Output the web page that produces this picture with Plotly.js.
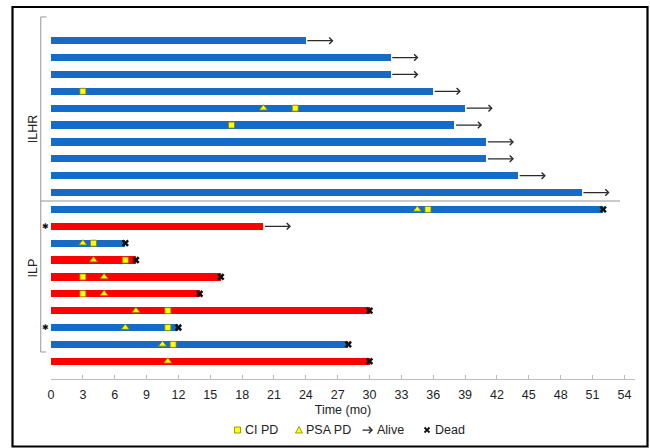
<!DOCTYPE html>
<html>
<head>
<meta charset="utf-8">
<script src="https://cdn.plot.ly/plotly-3.0.1.min.js"></script>
<style>html,body{margin:0;padding:0;background:#fff;}#chart{width:650px;height:448px;}</style>
</head>
<body>
<div id="chart"></div>
<script>
// ---- data (one row per patient, top to bottom) ----
const durationMo = [24, 32, 32, 36, 39, 38, 41, 41, 44, 50, 52, 20, 7, 8, 16, 14, 30, 12, 28, 30];
const barGroup   = ['blue','blue','blue','blue','blue','blue','blue','blue','blue','blue',
                    'blue','red','blue','red','red','red','red','blue','blue','red'];
const status     = ['Alive','Alive','Alive','Alive','Alive','Alive','Alive','Alive','Alive','Alive',
                    'Dead','Alive','Dead','Dead','Dead','Dead','Dead','Dead','Dead','Dead'];
const ciPD       = [null, null, null, 3, 23, 17, null, null, null, null,
                    35.5, null, 4, 7, 3, 3, 11, 11, 11.5, null];
const psaPD      = [null, null, null, null, 20, null, null, null, null, null,
                    34.5, null, 3, 4, 5, 5, 8, 7, 10.5, 11];
const asterisk   = [false,false,false,false,false,false,false,false,false,false,
                    false,true,false,false,false,false,false,true,false,false];
const groupLabels = ['ILHR', 'ILP'];
const legendLabels = ['CI PD', 'PSA PD', 'Alive', 'Dead'];
const xTitle = 'Time (mo)';

// ---- styling ----
const FONT = 'Liberation Sans, Arial, sans-serif';
const COLORS = {blue: '#146cc8', red: '#ff0000'};
const ARROW_LEN = 2.6;
const M = {l: 51, r: 15, t: 10, b: 69};
const PW = 650 - M.l - M.r, PH = 448 - M.t - M.b;
const px2x = p => (p - M.l) / PW;
const px2y = p => (M.t + PH - p) / PH;

const rows = durationMo.map((_, i) => i + 1);

const traces = [];
traces.push({
  type: 'bar', orientation: 'h',
  x: durationMo, y: rows, base: 0, width: 0.43,
  marker: {color: barGroup.map(g => COLORS[g]), line: {width: 0}},
  hoverinfo: 'skip', showlegend: false
});
function pts(arr) {
  const xs = [], ys = [];
  arr.forEach((v, i) => { if (v !== null) { xs.push(v); ys.push(rows[i]); } });
  return {xs, ys};
}
const psa = pts(psaPD);
traces.push({
  type: 'scatter', mode: 'markers', x: psa.xs, y: psa.ys, cliponaxis: false,
  marker: {symbol: 'triangle-up', size: 7, color: '#ffff00', line: {color: '#8a8000', width: 0.8}},
  showlegend: false, hoverinfo: 'skip'
});
const ci = pts(ciPD);
traces.push({
  type: 'scatter', mode: 'markers', x: ci.xs, y: ci.ys, cliponaxis: false,
  marker: {symbol: 'square', size: 6, color: '#ffff00', line: {color: '#8a8000', width: 0.8}},
  showlegend: false, hoverinfo: 'skip'
});
const dead = pts(durationMo.map((d, i) => status[i] === 'Dead' ? d : null));
traces.push({
  type: 'scatter', mode: 'markers', x: dead.xs, y: dead.ys, cliponaxis: false,
  marker: {symbol: 'x', size: 6.5, color: '#111', line: {width: 0}},
  showlegend: false, hoverinfo: 'skip'
});

const annotations = [];
// alive arrows
durationMo.forEach((d, i) => {
  if (status[i] === 'Alive') {
    annotations.push({
      xref: 'x', yref: 'y', axref: 'x', ayref: 'y',
      x: d + ARROW_LEN, y: rows[i], ax: d, ay: rows[i],
      text: '', showarrow: true, arrowhead: 4, arrowsize: 1, arrowwidth: 1.25,
      arrowcolor: '#2a2a2a', standoff: 0, startstandoff: 0
    });
  }
  if (asterisk[i]) {
    annotations.push({
      xref: 'paper', yref: 'y', x: px2x(45), y: rows[i], text: '✱',
      showarrow: false, font: {family: 'DejaVu Sans', size: 8, color: '#111'},
      xanchor: 'center', yanchor: 'middle'
    });
  }
});
// group labels
[[groupLabels[0], 6.25], [groupLabels[1], 14.5]].forEach(([t, yy]) => {
  annotations.push({
    xref: 'paper', yref: 'y', x: px2x(33), y: yy, text: t, textangle: -90,
    showarrow: false, font: {family: FONT, size: 12.5, color: '#222'},
    xanchor: 'center', yanchor: 'middle'
  });
});
// legend text
const LY = 430;
[[legendLabels[0], 243], [legendLabels[1], 304], [legendLabels[2], 375], [legendLabels[3], 433]].forEach(([t, px]) => {
  annotations.push({
    xref: 'paper', yref: 'paper', x: px2x(px), y: px2y(LY), text: t,
    showarrow: false, xanchor: 'left', yanchor: 'middle',
    font: {family: FONT, size: 12.5, color: '#222'}
  });
});
// legend arrow
annotations.push({
  xref: 'paper', yref: 'paper', x: px2x(373), y: px2y(LY), ax: -12, ay: 0,
  text: '', showarrow: true, arrowhead: 4, arrowsize: 1, arrowwidth: 1.25, arrowcolor: '#2a2a2a'
});

const GRAY = '#a8a8a8';
const shapes = [
  // outer frame
  {type: 'rect', xref: 'paper', yref: 'paper', x0: px2x(12.5), x1: px2x(647.5), y0: px2y(446.5), y1: px2y(7),
   line: {color: '#000', width: 2.2}, fillcolor: 'rgba(0,0,0,0)'},
  // separator
  {type: 'line', xref: 'paper', yref: 'y', x0: px2x(40.7), x1: px2x(620), y0: 10.5, y1: 10.5,
   line: {color: '#b8b8b8', width: 1.5}},
  // ILHR bracket
  {type: 'line', xref: 'paper', yref: 'y', x0: px2x(40.7), x1: px2x(40.7), y0: -0.41, y1: 10.5, line: {color: GRAY, width: 1.2}},
  {type: 'line', xref: 'paper', yref: 'y', x0: px2x(40.7), x1: px2x(46.5), y0: -0.41, y1: -0.41, line: {color: GRAY, width: 1.2}},
  // ILP bracket
  {type: 'line', xref: 'paper', yref: 'y', x0: px2x(40.7), x1: px2x(40.7), y0: 10.5, y1: 19.45, line: {color: GRAY, width: 1.2}},
  {type: 'line', xref: 'paper', yref: 'y', x0: px2x(40.7), x1: px2x(46), y0: 19.45, y1: 19.45, line: {color: GRAY, width: 1.2}},
  // legend square
  {type: 'rect', xref: 'paper', yref: 'paper', x0: px2x(234.5), x1: px2x(240.5), y0: px2y(433), y1: px2y(427),
   fillcolor: '#ffff00', line: {color: '#8a8000', width: 0.8}},
  // legend triangle
  {type: 'path', xref: 'paper', yref: 'paper',
   path: `M ${px2x(295.5)} ${px2y(433)} L ${px2x(302.5)} ${px2y(433)} L ${px2x(299)} ${px2y(426.5)} Z`,
   fillcolor: '#ffff00', line: {color: '#8a8000', width: 0.8}},
  // legend dead x
  {type: 'path', xref: 'paper', yref: 'paper',
   path: `M ${px2x(424.5)} ${px2y(427.5)} L ${px2x(429.5)} ${px2y(432.5)} M ${px2x(424.5)} ${px2y(432.5)} L ${px2x(429.5)} ${px2y(427.5)}`,
   line: {color: '#111', width: 1.8}}
];

const layout = {
  width: 650, height: 448,
  margin: M,
  paper_bgcolor: '#fff', plot_bgcolor: '#fff',
  showlegend: false,
  bargap: 0,
  font: {family: FONT, size: 12.5, color: '#222'},
  xaxis: {
    range: [0, 55], dtick: 3, tick0: 0,
    showline: true, linecolor: '#bdbdbd', linewidth: 1.2,
    ticks: 'inside', ticklen: 4, tickcolor: '#bdbdbd', tickwidth: 1,
    ticklabelstandoff: 4,
    showgrid: false, zeroline: false, fixedrange: true,
    tickfont: {family: FONT, size: 12.5, color: '#222'},
    title: {text: xTitle, font: {family: FONT, size: 12.5, color: '#222'}, standoff: 4}
  },
  yaxis: {
    range: [21.05, -0.82], showticklabels: false, showline: false, showgrid: false,
    zeroline: false, ticks: '', fixedrange: true
  },
  shapes, annotations
};

Plotly.newPlot('chart', traces, layout, {displayModeBar: false, staticPlot: true});
</script>
</body>
</html>
